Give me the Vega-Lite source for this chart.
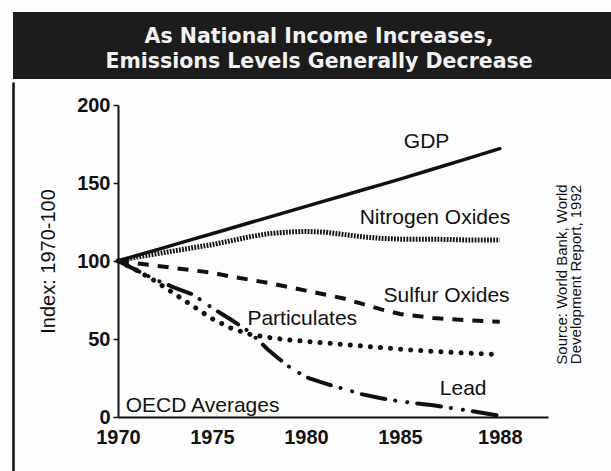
{
  "$schema": "https://vega.github.io/schema/vega-lite/v6.json",
  "background": "#fdfdfd",
  "padding": {"left": 13, "top": 12, "right": 0, "bottom": 0},
  "spacing": 0,
  "config": {
    "view": {"stroke": null},
    "font": "Liberation Sans",
    "axis": {"grid": false, "labelColor": "#111", "titleColor": "#111", "domainColor": "#111", "tickColor": "#111"}
  },
  "datasets": {
    "series": [
      {"series": "GDP", "year": 1970, "value": 100},
      {"series": "GDP", "year": 1971, "value": 103.5},
      {"series": "GDP", "year": 1972, "value": 107},
      {"series": "GDP", "year": 1973, "value": 110.5},
      {"series": "GDP", "year": 1974, "value": 114},
      {"series": "GDP", "year": 1975, "value": 117.5},
      {"series": "GDP", "year": 1976, "value": 121},
      {"series": "GDP", "year": 1977, "value": 124.5},
      {"series": "GDP", "year": 1978, "value": 128},
      {"series": "GDP", "year": 1979, "value": 131.5},
      {"series": "GDP", "year": 1980, "value": 135},
      {"series": "GDP", "year": 1981, "value": 138.5},
      {"series": "GDP", "year": 1982, "value": 142},
      {"series": "GDP", "year": 1983, "value": 145.5},
      {"series": "GDP", "year": 1984, "value": 149},
      {"series": "GDP", "year": 1985, "value": 152.5},
      {"series": "GDP", "year": 1986, "value": 159},
      {"series": "GDP", "year": 1987, "value": 165.5},
      {"series": "GDP", "year": 1988, "value": 172},
      {"series": "Nitrogen Oxides", "year": 1970, "value": 100},
      {"series": "Nitrogen Oxides", "year": 1971, "value": 102.5},
      {"series": "Nitrogen Oxides", "year": 1972, "value": 104.5},
      {"series": "Nitrogen Oxides", "year": 1973, "value": 106.5},
      {"series": "Nitrogen Oxides", "year": 1974, "value": 108.5},
      {"series": "Nitrogen Oxides", "year": 1975, "value": 110.5},
      {"series": "Nitrogen Oxides", "year": 1976, "value": 113},
      {"series": "Nitrogen Oxides", "year": 1977, "value": 115.5},
      {"series": "Nitrogen Oxides", "year": 1978, "value": 117.5},
      {"series": "Nitrogen Oxides", "year": 1979, "value": 118.5},
      {"series": "Nitrogen Oxides", "year": 1980, "value": 119},
      {"series": "Nitrogen Oxides", "year": 1981, "value": 118.5},
      {"series": "Nitrogen Oxides", "year": 1982, "value": 117},
      {"series": "Nitrogen Oxides", "year": 1983, "value": 115.5},
      {"series": "Nitrogen Oxides", "year": 1984, "value": 114.5},
      {"series": "Nitrogen Oxides", "year": 1985, "value": 114},
      {"series": "Nitrogen Oxides", "year": 1986, "value": 114},
      {"series": "Nitrogen Oxides", "year": 1987, "value": 113.5},
      {"series": "Nitrogen Oxides", "year": 1988, "value": 113.5},
      {"series": "Sulfur Oxides", "year": 1970, "value": 100},
      {"series": "Sulfur Oxides", "year": 1971, "value": 98.5},
      {"series": "Sulfur Oxides", "year": 1972, "value": 97},
      {"series": "Sulfur Oxides", "year": 1973, "value": 95.5},
      {"series": "Sulfur Oxides", "year": 1974, "value": 94},
      {"series": "Sulfur Oxides", "year": 1975, "value": 92.5},
      {"series": "Sulfur Oxides", "year": 1976, "value": 90},
      {"series": "Sulfur Oxides", "year": 1977, "value": 88},
      {"series": "Sulfur Oxides", "year": 1978, "value": 86},
      {"series": "Sulfur Oxides", "year": 1979, "value": 83.5},
      {"series": "Sulfur Oxides", "year": 1980, "value": 81},
      {"series": "Sulfur Oxides", "year": 1981, "value": 78.5},
      {"series": "Sulfur Oxides", "year": 1982, "value": 76},
      {"series": "Sulfur Oxides", "year": 1983, "value": 72.5},
      {"series": "Sulfur Oxides", "year": 1984, "value": 69},
      {"series": "Sulfur Oxides", "year": 1985, "value": 66},
      {"series": "Sulfur Oxides", "year": 1986, "value": 63.5},
      {"series": "Sulfur Oxides", "year": 1987, "value": 62},
      {"series": "Sulfur Oxides", "year": 1988, "value": 61},
      {"series": "Particulates", "year": 1970, "value": 100},
      {"series": "Particulates", "year": 1971, "value": 94},
      {"series": "Particulates", "year": 1972, "value": 87},
      {"series": "Particulates", "year": 1973, "value": 79},
      {"series": "Particulates", "year": 1974, "value": 71},
      {"series": "Particulates", "year": 1975, "value": 63},
      {"series": "Particulates", "year": 1976, "value": 57},
      {"series": "Particulates", "year": 1977, "value": 53},
      {"series": "Particulates", "year": 1978, "value": 51},
      {"series": "Particulates", "year": 1979, "value": 49.5},
      {"series": "Particulates", "year": 1980, "value": 48.5},
      {"series": "Particulates", "year": 1981, "value": 47.5},
      {"series": "Particulates", "year": 1982, "value": 46.5},
      {"series": "Particulates", "year": 1983, "value": 45.5},
      {"series": "Particulates", "year": 1984, "value": 44.5},
      {"series": "Particulates", "year": 1985, "value": 43.5},
      {"series": "Particulates", "year": 1986, "value": 42},
      {"series": "Particulates", "year": 1987, "value": 41},
      {"series": "Particulates", "year": 1988, "value": 40},
      {"series": "Lead", "year": 1970, "value": 100},
      {"series": "Lead", "year": 1971, "value": 94},
      {"series": "Lead", "year": 1972, "value": 88},
      {"series": "Lead", "year": 1973, "value": 83},
      {"series": "Lead", "year": 1974, "value": 78.5},
      {"series": "Lead", "year": 1975, "value": 70},
      {"series": "Lead", "year": 1976, "value": 62.5},
      {"series": "Lead", "year": 1977, "value": 54.5},
      {"series": "Lead", "year": 1978, "value": 43},
      {"series": "Lead", "year": 1979, "value": 33},
      {"series": "Lead", "year": 1980, "value": 25.5},
      {"series": "Lead", "year": 1981, "value": 21.5},
      {"series": "Lead", "year": 1982, "value": 18},
      {"series": "Lead", "year": 1983, "value": 14.5},
      {"series": "Lead", "year": 1984, "value": 12},
      {"series": "Lead", "year": 1985, "value": 10},
      {"series": "Lead", "year": 1986, "value": 7.5},
      {"series": "Lead", "year": 1987, "value": 4.3},
      {"series": "Lead", "year": 1988, "value": 0.8}
    ],
    "labels": [
      {"label": "GDP", "year": 1985.8, "value": 176},
      {"label": "Nitrogen Oxides", "year": 1986.05, "value": 127.5},
      {"label": "Sulfur Oxides", "year": 1986.4, "value": 77.5},
      {"label": "Particulates", "year": 1979.8, "value": 63},
      {"label": "Lead", "year": 1986.9, "value": 18},
      {"label": "OECD Averages", "year": 1974.5, "value": 7}
    ]
  },
  "vconcat": [
    {
      "width": 598,
      "height": 67,
      "view": {"fill": "#1c1c1c", "stroke": null},
      "data": {"values": [
        {"line": 1, "text": "As National Income Increases,"},
        {"line": 2, "text": "Emissions Levels Generally Decrease"}
      ]},
      "mark": {"type": "text", "color": "#f2f2f2", "font": "DejaVu Sans", "fontSize": 20.5, "fontWeight": "bold", "baseline": "middle", "align": "center", "dx": 7, "dy": 4},
      "encoding": {
        "y": {"field": "line", "type": "ordinal", "axis": null, "scale": {"type": "point", "padding": 0.8}},
        "text": {"field": "text"}
      }
    },
    {
      "width": 598,
      "height": 392,
      "layer": [
        {
          "encoding": {
            "x": {
              "field": "year", "type": "quantitative",
              "scale": {"domain": [1970, 1985, 1989.45], "range": [105, 387, 535], "nice": false, "zero": false},
              "axis": {
                "orient": "bottom", "offset": -57, "values": [1970, 1975, 1980, 1985, 1988], "format": "d",
                "ticks": false, "labelPadding": 10, "labelFontSize": 20, "labelFontWeight": "bold",
                "labelFlush": false, "labelOverlap": false, "domainWidth": 2, "title": null
              }
            },
            "y": {
              "field": "value", "type": "quantitative",
              "scale": {"domain": [0, 200], "range": [335, 23], "nice": false},
              "axis": {
                "orient": "left", "offset": -105, "values": [0, 50, 100, 150, 200],
                "tickSize": 5, "tickWidth": 1.5, "labelPadding": 3, "labelFontSize": 20, "labelFontWeight": "bold",
                "labelFlush": false, "domainWidth": 2,
                "title": "Index: 1970-100", "titleFontSize": 20, "titleFontWeight": "normal", "titlePadding": 18
              }
            }
          },
          "layer": [
            {
              "data": {"name": "series"},
              "transform": [{"filter": "datum.series === 'GDP'"}],
              "mark": {"type": "line", "color": "#111", "strokeWidth": 3.5, "strokeCap": "round"}
            },
            {
              "data": {"name": "series"},
              "transform": [{"filter": "datum.series === 'Nitrogen Oxides'"}],
              "mark": {"type": "line", "color": "#111", "strokeWidth": 5, "strokeDash": [1.8, 1.3]}
            },
            {
              "data": {"name": "series"},
              "transform": [{"filter": "datum.series === 'Sulfur Oxides'"}],
              "mark": {"type": "line", "color": "#111", "strokeWidth": 4, "strokeDash": [11, 9]}
            },
            {
              "data": {"name": "series"},
              "transform": [{"filter": "datum.series === 'Particulates'"}],
              "mark": {"type": "line", "color": "#111", "strokeWidth": 5, "strokeDash": [0.1, 10], "strokeCap": "round"}
            },
            {
              "data": {"name": "series"},
              "transform": [{"filter": "datum.series === 'Lead'"}],
              "mark": {"type": "line", "color": "#111", "strokeWidth": 4, "strokeDash": [24, 10, 0.1, 12, 0.1, 10], "strokeCap": "round"}
            },
            {
              "data": {"name": "labels"},
              "mark": {"type": "text", "color": "#111", "fontSize": 21, "align": "center", "baseline": "middle"},
              "encoding": {"text": {"field": "label"}}
            }
          ]
        },
        {
          "data": {"values": [{"f": 0}, {"f": 1}]},
          "mark": {"type": "point", "opacity": 0},
          "encoding": {
            "y": {
              "field": "f", "type": "quantitative", "scale": {"domain": [0, 1], "nice": false},
              "axis": {"orient": "left", "offset": 0, "labels": false, "ticks": false, "title": null, "domainWidth": 2.5}
            }
          }
        },
        {
          "data": {"values": [{"g": 0}, {"g": 1}]},
          "mark": {"type": "point", "opacity": 0},
          "encoding": {
            "y": {
              "field": "g", "type": "quantitative", "scale": {"domain": [0, 1], "nice": false},
              "axis": {
                "orient": "right", "offset": -71, "labels": false, "ticks": false, "domain": false,
                "title": ["Source: World Bank, World", "Development Report, 1992"],
                "titleAngle": 270, "titleBaseline": "top", "titleAlign": "center", "titlePadding": 0,
                "titleFontSize": 15, "titleFontWeight": "normal", "titleLineHeight": 14, "titleY": 192
              }
            }
          }
        }
      ],
      "resolve": {"scale": {"y": "independent"}, "axis": {"y": "independent"}}
    }
  ]
}
